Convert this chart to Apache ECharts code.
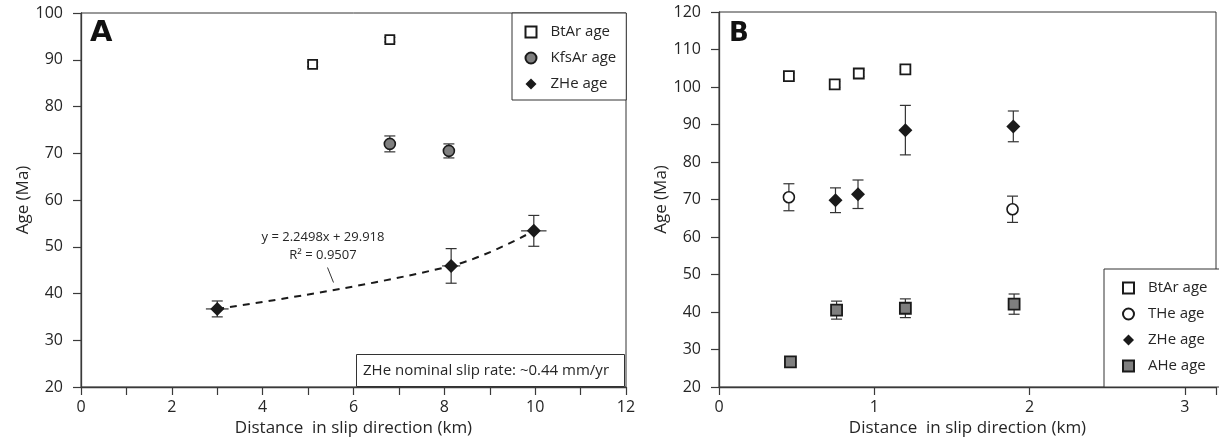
<!DOCTYPE html>
<html>
<head>
<meta charset="utf-8">
<script src="https://cdn.jsdelivr.net/npm/echarts@6/dist/echarts.min.js"></script>
<style>
html,body{margin:0;padding:0;background:#fff;}
#chart{width:1219px;height:446px;}
</style>
</head>
<body>
<div id="chart"></div>
<script>
// ---------- Panel A data ----------
const aBtArX = [5.1, 6.8];
const aBtArY = [89.0, 94.3];
const aBtArErr = [0.5, 0.5];
const aKfsX = [6.8, 8.1];
const aKfsY = [72.0, 70.5];
const aKfsErr = [1.7, 1.5];
const aZHeX = [3.0, 8.15, 9.97];
const aZHeY = [36.7, 45.9, 53.4];
const aZHeErr = [1.7, 3.7, 3.3];
const aZHeXErr = [0.25, 0.2, 0.28];
// ---------- Panel B data ----------
const bBtArX = [0.45, 0.745, 0.9, 1.2];
const bBtArY = [102.9, 100.7, 103.6, 104.7];
const bBtArErr = [0.8, 0.8, 0.8, 0.8];
const bTHeX = [0.45, 1.89];
const bTHeY = [70.6, 67.4];
const bTHeErr = [3.6, 3.5];
const bZHeX = [0.75, 0.895, 1.2, 1.895];
const bZHeY = [69.8, 71.4, 88.5, 89.5];
const bZHeErr = [3.3, 3.8, 6.6, 4.1];
const bAHeX = [0.46, 0.757, 1.2, 1.9];
const bAHeY = [26.7, 40.5, 41.0, 42.1];
const bAHeErr = [0.8, 2.4, 2.5, 2.7];
// ---------- text ----------
const xTitle = 'Distance  in slip direction (km)';
const yTitle = 'Age (Ma)';
const fitEq = 'y = 2.2498x + 29.918';
const fitR2 = 'R² = 0.9507';
const slipNote = 'ZHe nominal slip rate: ~0.44 mm/yr';
const legendA = ['BtAr age', 'KfsAr age', 'ZHe age'];
const legendB = ['BtAr age', 'THe age', 'ZHe age', 'AHe age'];

const FONT = 'Open Sans';
const TXT = '#262626';
const AX = '#3a3a3a';
const GREY = '#7f7f7f';
const DARK = '#1a1a1a';

function pts(xs, ys) { return xs.map((x, i) => [x, ys[i]]); }

function errSeries(xi, xs, ys, es, xes) {
  return {
    type: 'custom', xAxisIndex: xi, yAxisIndex: xi, z: 2, silent: true,
    encode: { x: 0, y: 1 },
    data: xs.map((x, i) => [x, ys[i], es[i], xes ? xes[i] : 0]),
    renderItem: function (params, api) {
      const x = api.value(0), y = api.value(1), e = api.value(2), xe = api.value(3);
      const top = api.coord([x, y + e]), bot = api.coord([x, y - e]);
      const cap = 5.5;
      const style = { stroke: '#333', lineWidth: 1.2, fill: null };
      const ch = [
        { type: 'line', shape: { x1: top[0], y1: top[1], x2: bot[0], y2: bot[1] }, style: style },
        { type: 'line', shape: { x1: top[0] - cap, y1: top[1], x2: top[0] + cap, y2: top[1] }, style: style },
        { type: 'line', shape: { x1: bot[0] - cap, y1: bot[1], x2: bot[0] + cap, y2: bot[1] }, style: style }
      ];
      if (xe > 0) {
        const l = api.coord([x - xe, y]), r = api.coord([x + xe, y]);
        ch.push({ type: 'line', shape: { x1: l[0], y1: l[1], x2: r[0], y2: r[1] }, style: style });
      }
      return { type: 'group', children: ch };
    }
  };
}

function scat(name, xi, data, symbol, size, fill, bw) {
  return {
    name: name, type: 'scatter', xAxisIndex: xi, yAxisIndex: xi, z: 3,
    symbol: symbol, symbolSize: size, data: data,
    itemStyle: { color: fill, borderColor: DARK, borderWidth: bw, opacity: 1 }
  };
}

function xAx(gi, max, evenOnly) {
  return {
    type: 'value', gridIndex: gi, min: 0, max: max, interval: 1,
    name: xTitle, nameLocation: 'middle', nameGap: 33,
    nameTextStyle: { fontFamily: FONT, fontSize: 17, color: TXT },
    axisLine: { show: true, onZero: false, lineStyle: { color: AX, width: 1.3 } },
    axisTick: { show: true, length: 8, lineStyle: { color: AX, width: 1.2 } },
    axisLabel: {
      fontFamily: FONT, fontSize: 16, color: TXT, margin: 12,
      formatter: function (v) {
        if (Math.abs(v - Math.round(v)) > 1e-6) return '';
        if (evenOnly && Math.round(v) % 2 !== 0) return '';
        return String(Math.round(v));
      }
    },
    splitLine: { show: false }
  };
}
function yAx(gi, min, max) {
  return {
    type: 'value', gridIndex: gi, min: min, max: max, interval: 10,
    name: yTitle, nameLocation: 'middle', nameGap: 48,
    nameTextStyle: { fontFamily: FONT, fontSize: 17, color: TXT },
    axisLine: { show: true, onZero: false, lineStyle: { color: AX, width: 1.3 } },
    axisTick: { show: true, length: 8, lineStyle: { color: AX, width: 1.2 } },
    axisLabel: { fontFamily: FONT, fontSize: 16, color: TXT, margin: 18 },
    splitLine: { show: false }
  };
}

const legendBase = {
  orient: 'vertical', itemWidth: 11, itemHeight: 11, itemGap: 0, symbolKeepAspect: true,
  borderColor: '#333', borderWidth: 1, backgroundColor: '#fff', borderRadius: 0,
  textStyle: { fontFamily: FONT, fontSize: 15, lineHeight: 26, color: TXT, padding: [0, 0, 0, 9] },
  selectedMode: false, z: 10
};

const chart = echarts.init(document.getElementById('chart'), null, { renderer: 'canvas' });
const option = {
  animation: false,
  backgroundColor: '#fff',
  grid: [
    { left: 81, top: 13, width: 545, height: 374, show: true, borderColor: '#333', borderWidth: 1, backgroundColor: 'transparent' },
    { left: 719, top: 12, width: 506, height: 375, show: true, borderColor: '#333', borderWidth: 1, backgroundColor: 'transparent' }
  ],
  xAxis: [xAx(0, 12, true), xAx(1, 3.2, false)],
  yAxis: [yAx(0, 20, 100), yAx(1, 20, 120)],
  legend: [
    Object.assign({}, legendBase, { left: 512, top: 13, padding: [6, 10, 3, 12.5], data: legendA }),
    Object.assign({}, legendBase, { left: 1104, top: 269, padding: [6, 40, 8, 18], data: legendB })
  ],
  title: [
    {
      text: slipNote, left: 356, top: 354, padding: [7, 16, 7, 7],
      borderColor: '#333', borderWidth: 1, backgroundColor: '#fff',
      textStyle: { fontFamily: FONT, fontSize: 15, fontWeight: 'normal', color: TXT, lineHeight: 19 }
    }
  ],
  graphic: [
    { type: 'text', left: 90, top: 19, style: { text: 'A', font: '900 29px "DejaVu Sans"', fill: '#111' } },
    { type: 'text', left: 729, top: 21, style: { text: 'B', font: '900 26px "DejaVu Sans"', fill: '#111' } },
    { type: 'text', x: 323, y: 237, style: { text: fitEq, font: '13px "Open Sans"', fill: TXT, align: 'center', verticalAlign: 'middle' } },
    { type: 'text', x: 323, y: 255, style: { text: fitR2, font: '13px "Open Sans"', fill: TXT, align: 'center', verticalAlign: 'middle' } },
    { type: 'line', shape: { x1: 327.5, y1: 267.5, x2: 333.5, y2: 282.5 }, style: { stroke: '#333', lineWidth: 1 } }
  ],
  series: [
    // Panel A
    {
      name: 'ZHe fit', type: 'line', xAxisIndex: 0, yAxisIndex: 0, z: 1, smooth: 0.4,
      symbol: 'none', data: pts(aZHeX, aZHeY), silent: true,
      lineStyle: { color: DARK, width: 2, type: [7, 6] }
    },
    errSeries(0, aBtArX, aBtArY, aBtArErr),
    errSeries(0, aKfsX, aKfsY, aKfsErr),
    errSeries(0, aZHeX, aZHeY, aZHeErr, aZHeXErr),
    scat('BtAr age', 0, pts(aBtArX, aBtArY), 'rect', 9, '#fff', 1.8),
    scat('KfsAr age', 0, pts(aKfsX, aKfsY), 'circle', 11, GREY, 1.6),
    scat('ZHe age', 0, pts(aZHeX, aZHeY), 'diamond', 14, DARK, 0),
    // Panel B
    errSeries(1, bBtArX, bBtArY, bBtArErr),
    errSeries(1, bTHeX, bTHeY, bTHeErr),
    errSeries(1, bZHeX, bZHeY, bZHeErr),
    errSeries(1, bAHeX, bAHeY, bAHeErr),
    scat('BtAr age', 1, pts(bBtArX, bBtArY), 'rect', 10, '#fff', 1.8),
    scat('THe age', 1, pts(bTHeX, bTHeY), 'circle', 11, '#fff', 1.6),
    scat('ZHe age', 1, pts(bZHeX, bZHeY), 'diamond', 14, DARK, 0),
    scat('AHe age', 1, pts(bAHeX, bAHeY), 'rect', 11, GREY, 1.8)
  ]
};
chart.setOption(option);
</script>
</body>
</html>
